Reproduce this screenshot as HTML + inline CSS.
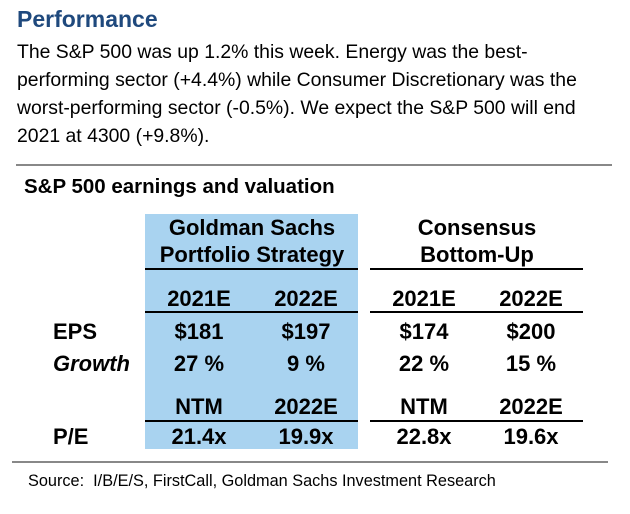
<!DOCTYPE html>
<html><head><meta charset="utf-8"><style>
body{margin:0;width:630px;height:514px;background:#fff;position:relative;font-family:"Liberation Sans",Arial,sans-serif;color:#000;overflow:hidden}
.a{position:absolute;white-space:nowrap}
.c{transform:translateX(-50%)}
.b{font-weight:bold}
.ln{position:absolute;background:#000;height:2px}
</style></head><body>
<div class="a b" style="left:17px;top:6px;font-size:23px;color:#1f497d">Performance</div>
<div class="a" style="left:17px;top:38px;font-size:19.4px;line-height:28px">The S&amp;P 500 was up 1.2% this week. Energy was the best-<br>performing sector (+4.4%) while Consumer Discretionary was the<br>worst-performing sector (-0.5%). We expect the S&amp;P 500 will end<br>2021 at 4300 (+9.8%).</div>
<div class="ln" style="left:16px;top:164px;width:596px;background:#888"></div>
<div class="a b" style="left:24px;top:175px;font-size:20.5px">S&amp;P 500 earnings and valuation</div>
<div class="a" style="left:145px;top:214px;width:213px;height:235px;background:#a9d3f0"></div>
<div class="a b c" style="left:252px;top:214px;font-size:22px;line-height:27px;text-align:center">Goldman Sachs<br>Portfolio Strategy</div>
<div class="a b c" style="left:477px;top:214px;font-size:22px;line-height:27px;text-align:center">Consensus<br>Bottom-Up</div>
<div class="ln" style="left:145px;top:268px;width:213px"></div>
<div class="ln" style="left:370px;top:268px;width:213px"></div>
<div class="ln" style="left:145px;top:311px;width:213px"></div>
<div class="ln" style="left:370px;top:311px;width:213px"></div>
<div class="ln" style="left:145px;top:420px;width:213px"></div>
<div class="ln" style="left:370px;top:420px;width:213px"></div>
<div class="ln" style="left:12px;top:461px;width:596px;background:#888"></div>
<div id="cells"></div>
<div class="a" style="left:28px;top:472px;font-size:16.3px">Source:&nbsp; I/B/E/S, FirstCall, Goldman Sachs Investment Research</div>
<script>
const colX=[199,306,424,531];
const rows=[
 {y:286,vals:["2021E","2022E","2021E","2022E"],name:"year-header"},
 {y:319,vals:["$181","$197","$174","$200"],name:"eps-value",label:"EPS"},
 {y:351,vals:["27 %","9 %","22 %","15 %"],name:"growth-value",label:"Growth",it:true},
 {y:394,vals:["NTM","2022E","NTM","2022E"],name:"pe-header"},
 {y:424,vals:["21.4x","19.9x","22.8x","19.6x"],name:"pe-value",label:"P/E"}
];
const host=document.getElementById('cells');
rows.forEach(r=>{
 if(r.label){const l=document.createElement('div');
  l.className='a b';l.style.left='53px';l.style.top=r.y+'px';l.style.fontSize='22px';
  if(r.it)l.style.fontStyle='italic';l.textContent=r.label;
  
  host.appendChild(l);}
 r.vals.forEach((v,i)=>{const d=document.createElement('div');
  d.className='a b c';d.style.left=colX[i]+'px';d.style.top=r.y+'px';d.style.fontSize='22px';
  d.textContent=v;
  
  host.appendChild(d);});
});
</script>
</body></html>
